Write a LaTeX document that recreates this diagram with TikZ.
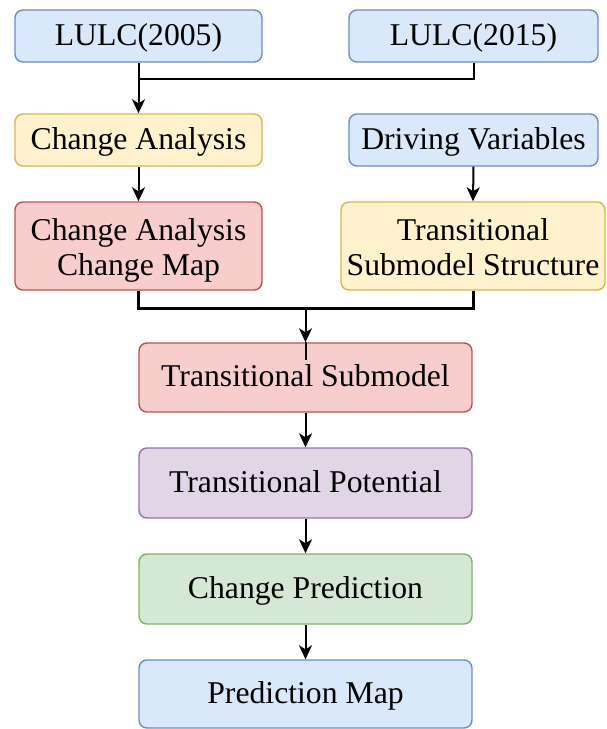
\documentclass[tikz,border=0pt]{standalone}
\usepackage{fontspec}
\setmainfont{Liberation Serif}
\usetikzlibrary{arrows.meta}
\definecolor{bluef}{HTML}{DAE8FC}\definecolor{bluel}{HTML}{6C8EBF}
\definecolor{yelf}{HTML}{FFF2CC}\definecolor{yell}{HTML}{D6B656}
\definecolor{redf}{HTML}{F8CECC}\definecolor{redl}{HTML}{B85450}
\definecolor{purf}{HTML}{E1D5E7}\definecolor{purl}{HTML}{9673A6}
\definecolor{grnf}{HTML}{D5E8D4}\definecolor{grnl}{HTML}{82B366}
\tikzset{
  box/.style={draw, rounded corners=8pt, line width=1.4pt, inner sep=0pt, align=center,
    font=\fontsize{31.7}{35}\selectfont, text height=23pt, text depth=5pt},
  twoline/.style={text height=63pt, text depth=5pt},
  bluebox/.style={box, fill=bluef, draw=bluel},
  yelbox/.style={box, fill=yelf, draw=yell},
  redbox/.style={box, fill=redf, draw=redl},
  purbox/.style={box, fill=purf, draw=purl},
  grnbox/.style={box, fill=grnf, draw=grnl},
  conn/.style={line width=2pt, line join=miter},
  arr/.style={conn, -{Stealth[length=14pt, width=13pt, inset=4pt]}},
  thickconn/.style={line width=3pt, line join=miter}
}
\begin{document}
\begin{tikzpicture}[x=1pt,y=-1pt]
\useasboundingbox (0,0) rectangle (606,729);
\node[bluebox, minimum width=247pt, minimum height=52pt] (n1) at (138.5,36) {LULC(2005)};
\node[bluebox, minimum width=249pt, minimum height=52pt] (n2) at (473.5,36) {LULC(2015)};
\node[yelbox, minimum width=247pt, minimum height=52pt] (n3) at (138.5,140) {Change Analysis};
\node[bluebox, minimum width=249pt, minimum height=52pt] (n4) at (473.5,140) {Driving Variables};
\node[redbox, twoline, minimum width=247pt, minimum height=88pt] (n5) at (138.5,246) {Change Analysis\\Change Map};
\node[yelbox, twoline, minimum width=264pt, minimum height=88pt] (n6) at (473,246) {Transitional\\Submodel Structure};
\node[redbox, minimum width=333pt, minimum height=69pt] (n7) at (305.5,377.5) {Transitional Submodel};
\node[purbox, minimum width=333pt, minimum height=70pt] (n8) at (305.5,483) {Transitional Potential};
\node[grnbox, minimum width=333pt, minimum height=70pt] (n9) at (305.5,589) {Change Prediction};
\node[bluebox, minimum width=333pt, minimum height=68pt] (n10) at (305.5,694) {Prediction Map};
\coordinate (j1) at (138.5,79);
\coordinate (j2) at (473.5,79);
\coordinate (j3) at (305.5,308);
\draw[conn] (n2.south) -- (j2) -- (j1);
\draw[arr] (n1.south) -- (n3.north);
\draw[arr] (n3.south) -- (n5.north);
\draw[arr] (n4.south) -- (n6.north);
\draw[thickconn] (n5.south) -- (n5.south |- j3) -- (n6.south |- j3) -- (n6.south);
\draw[arr] (j3) -- (n7.north);
\coordinate (j4) at (305.5,360);
\draw[conn] (n7.north) -- (j4);
\draw[arr] (n7.south) -- (n8.north);
\draw[arr] (n8.south) -- (n9.north);
\draw[arr] (n9.south) -- (n10.north);
\end{tikzpicture}
\end{document}
